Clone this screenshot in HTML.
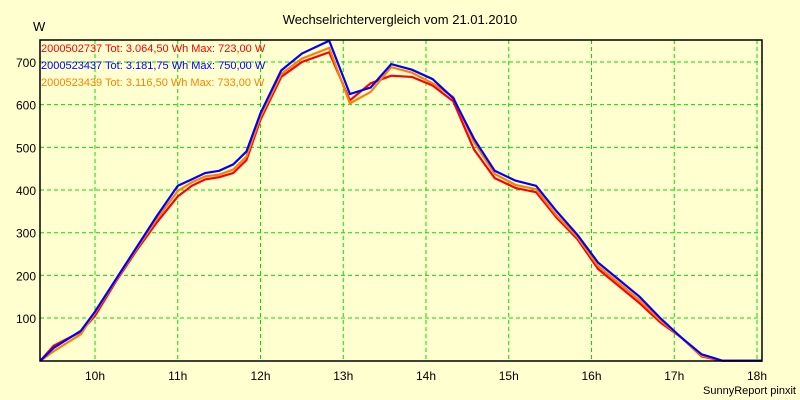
<!DOCTYPE html>
<html><head><meta charset="utf-8"><style>
body{margin:0;background:#ffffd0;}
svg{display:block;font-family:"Liberation Sans",sans-serif;}
</style></head><body>
<svg id="chart" width="800" height="400">
<rect x="0" y="0" width="800" height="400" fill="#ffffd0"/>
<text x="400" y="24" font-size="13" text-anchor="middle" fill="#000">Wechselrichtervergleich vom 21.01.2010</text>
<text x="33" y="31" font-size="13" fill="#000">W</text>
<text x="796" y="394" font-size="11" text-anchor="end" fill="#000">SunnyReport pinxit</text>
<g id="grid"></g>
<g id="series"></g>
<g id="axes"></g>
<g id="legend" font-size="11">
<text x="41" y="52" fill="#ff0000">2000502737 Tot: 3.064,50 Wh Max: 723,00 W</text>
<text x="41" y="69" fill="#0000ff">2000523437 Tot: 3.181,75 Wh Max: 750,00 W</text>
<text x="41" y="86" fill="#ff8000">2000523439 Tot: 3.116,50 Wh Max: 733,00 W</text>
</g>
</svg>
<script>
const times=[9.34,9.5,9.83,10,10.25,10.5,10.75,11,11.17,11.33,11.5,11.67,11.83,12,12.25,12.5,12.83,13.08,13.33,13.58,13.83,14.08,14.33,14.58,14.83,15.08,15.33,15.58,15.83,16.08,16.33,16.58,16.83,17.08,17.33,17.5,17.58,18.06];
const blueVals=[0,30,70,115,190,265,340,410,425,440,445,460,490,580,680,720,750,625,640,695,682,660,615,520,445,422,410,350,295,230,190,150,100,55,15,5,0,0];
const redVals=[0,35,68,105,185,258,325,385,410,425,430,440,470,565,665,700,723,610,650,668,665,645,608,495,428,405,395,335,285,215,175,135,90,55,10,3,0,0];
const orangeVals=[0,22,62,112,188,262,333,398,418,432,436,448,478,572,672,708,733,603,630,688,675,650,618,512,438,412,402,340,290,222,182,142,95,55,12,4,0,0];
const yTicks=[100,200,300,400,500,600,700];
const xTicks=[10,11,12,13,14,15,16,17,18];
const L=40,R=762,T=40,B=361;
const xs=h=>95+(h-10)*82.75;
const ys=v=>360.7-v*0.4267;
const NS="http://www.w3.org/2000/svg";
const grid=document.getElementById('grid'),axes=document.getElementById('axes'),ser=document.getElementById('series');
function mk(tag,attrs,parent){const e=document.createElementNS(NS,tag);for(const k in attrs)e.setAttribute(k,attrs[k]);parent.appendChild(e);return e;}
yTicks.forEach(v=>{
 const l=mk('line',{x1:L,x2:R,y1:ys(v),y2:ys(v),stroke:'#00e000','stroke-dasharray':'4,3'},grid);
 
 
 const t=mk('text',{x:L-4,y:ys(v)+5,'font-size':12,'text-anchor':'end',fill:'#000'},axes);
 t.textContent=v;
 
 
});
xTicks.forEach(h=>{
 const l=mk('line',{x1:xs(h),x2:xs(h),y1:T,y2:B,stroke:'#00e000','stroke-dasharray':'4,3'},grid);
 
 
 const t=mk('text',{x:xs(h),y:380,'font-size':12,'text-anchor':'middle',fill:'#000'},axes);
 t.textContent=h+'h';
 
 
});
const frame=mk('rect',{x:L,y:T,width:R-L,height:B-T,fill:'none',stroke:'#000','stroke-width':1.5},axes);


[[redVals,'#ff0000','series-red'],[orangeVals,'#ff8000','series-orange'],[blueVals,'#0000ff','series-blue']].forEach(([vals,c,n])=>{
 const p=mk('polyline',{points:vals.map((v,i)=>xs(times[i]).toFixed(1)+','+ys(v).toFixed(1)).join(' '),fill:'none',stroke:c,'stroke-width':2.2},ser);
 
 
});
</script>
</body></html>
